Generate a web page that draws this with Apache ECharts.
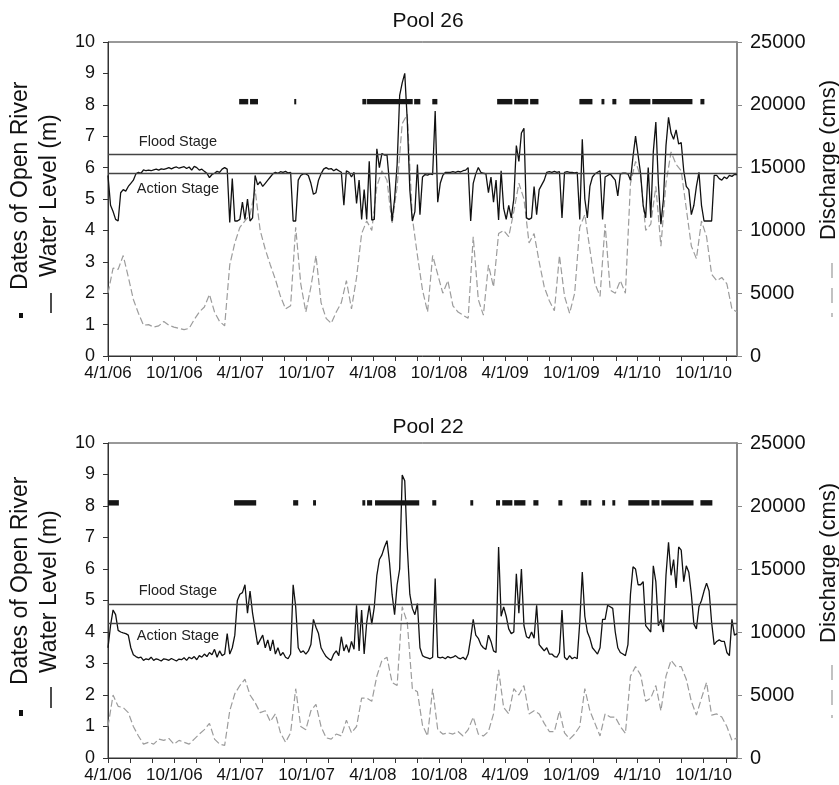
<!DOCTYPE html>
<html><head><meta charset="utf-8">
<script src="https://cdn.jsdelivr.net/npm/echarts@6/dist/echarts.min.js"></script>
<style>html,body{margin:0;padding:0;background:#fff}#c{width:839px;height:785px}</style>
</head><body><div id="c"></div>
<script>
// ---------- data ----------
const START_DATE = '2006-04-01';
const END_DATE = '2011-01-01';
const LEVEL_STEP_DAYS = 7;   // water level sampled weekly from START_DATE
const FLOW_STEP_DAYS = 14;   // discharge sampled bi-weekly from START_DATE

const xTickDates = ['2006-04-01','2006-06-01','2006-08-01','2006-10-01','2006-12-01',
  '2007-02-01','2007-04-01','2007-06-01','2007-08-01','2007-10-01','2007-12-01',
  '2008-02-01','2008-04-01','2008-06-01','2008-08-01','2008-10-01','2008-12-01',
  '2009-02-01','2009-04-01','2009-06-01','2009-08-01','2009-10-01','2009-12-01',
  '2010-02-01','2010-04-01','2010-06-01','2010-08-01','2010-10-01','2010-12-01'];
const xLabelDates = ['2006-04-01','2006-10-01','2007-04-01','2007-10-01','2008-04-01',
  '2008-10-01','2009-04-01','2009-10-01','2010-04-01','2010-10-01'];

const pool26Level = [
  5.75,4.8,4.6,4.35,4.3,5.2,5.3,5.25,5.4,5.5,
  5.6,5.8,5.85,5.82,5.93,5.9,5.92,5.9,5.93,5.95,
  5.92,5.96,5.94,5.97,6.0,5.96,6.0,6.02,5.98,6.01,
  6.03,5.97,6.02,5.92,6.04,6.0,5.92,5.95,5.88,5.82,
  5.68,5.78,5.82,5.88,5.85,5.95,6.0,5.95,4.25,5.65,
  4.3,4.3,4.35,4.9,4.35,5.0,4.3,4.4,5.75,5.45,
  5.55,5.4,5.5,5.6,5.7,5.8,5.85,5.82,5.87,5.85,
  5.88,5.83,5.85,4.3,4.3,5.6,5.75,5.8,5.8,5.75,
  5.5,5.15,5.2,5.6,5.8,5.95,6.0,5.95,5.97,5.9,
  5.95,5.9,5.85,4.8,5.9,5.85,5.7,5.85,4.86,5.6,
  4.35,5.3,4.35,6.2,4.33,4.35,6.6,6.0,6.45,6.4,
  6.4,5.5,4.3,5.0,6.1,8.3,8.7,9.0,7.5,5.3,
  4.3,4.6,6.1,4.5,5.7,5.78,5.76,5.8,5.78,7.8,
  4.9,5.5,5.75,5.85,5.85,5.85,5.87,5.85,5.88,5.86,
  5.9,5.92,6.0,4.3,5.5,5.8,6.0,5.85,5.82,5.8,
  5.2,5.7,4.9,5.6,4.33,5.9,4.7,4.35,4.8,4.4,
  5.0,6.7,6.2,7.1,7.25,4.4,4.35,4.4,5.4,4.5,
  5.3,5.45,5.6,5.85,5.87,5.85,5.88,5.85,5.87,4.4,
  5.85,5.87,5.85,5.85,5.83,5.85,4.35,6.9,5.0,4.4,
  5.4,5.7,5.8,5.85,5.9,4.35,5.7,5.75,5.8,5.7,
  5.6,5.1,5.8,5.82,5.82,5.8,5.6,6.35,7.0,6.4,
  5.8,4.8,4.4,6.0,4.4,6.5,7.45,5.5,4.2,5.0,
  6.7,7.6,7.1,6.9,7.2,6.75,6.8,5.9,5.4,5.3,
  4.5,4.8,5.4,5.85,4.8,4.3,4.3,4.3,4.3,5.75,
  5.75,5.65,5.6,5.7,5.65,5.75,5.72,5.78,5.78];

const pool22Level = [
  3.5,4.2,4.7,4.55,4.05,4.0,3.97,3.95,3.9,3.5,
  3.28,3.22,3.18,3.2,3.1,3.15,3.12,3.2,3.1,3.15,
  3.12,3.08,3.15,3.13,3.1,3.16,3.12,3.08,3.14,3.12,
  3.18,3.1,3.2,3.15,3.22,3.12,3.25,3.2,3.3,3.22,
  3.35,3.28,3.45,3.2,3.4,3.25,3.3,3.95,3.3,3.5,
  3.9,5.0,5.2,5.25,5.5,4.6,5.3,4.6,4.1,3.6,
  3.75,3.9,3.5,3.75,3.4,3.75,3.3,3.5,3.25,3.35,
  3.2,3.15,3.3,5.5,4.8,3.5,3.35,3.4,3.3,3.4,
  3.6,4.4,4.15,3.95,3.5,3.35,3.22,3.15,3.1,3.3,
  3.4,3.25,3.85,3.4,3.6,3.35,3.7,3.45,4.85,3.4,
  4.7,3.3,4.3,4.85,4.25,4.8,5.8,6.3,6.45,6.7,
  6.9,6.2,5.2,4.55,5.5,6.0,8.98,8.8,6.7,5.2,
  4.75,4.55,4.9,3.5,3.25,3.2,3.18,3.15,3.2,5.7,
  3.2,3.18,3.2,3.15,3.22,3.18,3.2,3.25,3.18,3.15,
  3.2,3.12,3.3,3.8,4.4,3.9,3.8,3.6,3.5,3.45,
  3.9,3.7,3.4,3.35,6.7,4.5,4.8,4.5,4.1,3.95,
  4.0,5.85,4.6,6.0,4.2,3.85,3.8,4.0,3.8,4.85,
  3.6,3.5,3.4,3.5,3.3,3.3,3.22,3.2,3.35,4.7,
  3.2,3.12,3.25,3.15,3.2,3.15,4.3,5.9,4.5,4.0,
  3.8,3.5,3.4,3.3,3.5,4.4,4.4,4.85,4.8,4.75,
  4.0,3.5,3.35,3.3,3.25,3.6,5.2,6.07,6.0,5.5,
  5.5,5.6,4.2,4.1,4.0,6.1,5.6,4.2,4.4,4.0,
  5.8,6.85,5.8,6.3,5.4,6.7,6.6,5.6,6.1,5.9,
  5.2,4.25,4.1,4.8,5.0,5.3,5.55,5.3,4.3,3.6,
  3.7,3.75,3.7,3.7,3.35,3.25,4.4,3.9,3.95];

const pool26Discharge = [
  5000,7000,6900,8000,6300,4500,3400,2450,2500,2300,
  2400,2750,2450,2300,2200,2100,2200,2900,3500,3900,
  4900,3500,2750,2400,7250,9000,10250,10750,11250,13250,
  10000,8500,7250,6100,4750,3750,4000,10250,5750,3500,
  5500,8000,4250,3000,2600,3500,4250,6000,3750,6250,
  9750,10750,10000,13500,14750,14000,10500,13500,18500,19250,
  11000,8000,5250,3500,8000,6500,5000,6000,4000,3500,
  3250,3000,9500,4500,3250,7250,5500,9750,10000,9500,
  11500,13750,12500,9000,9750,7500,5500,4400,3600,8000,
  4750,3400,5000,10250,11250,8500,5750,4750,10500,5250,
  5000,6000,5000,13750,15500,14250,10000,10500,13500,8750,
  13750,16250,15250,14750,11750,8750,7750,10750,9500,6500,
  6000,6250,5750,3750,3500];

const pool22Discharge = [
  2500,5000,4100,4000,3600,2500,1750,1100,1250,1100,
  1500,1400,1550,1100,1400,1250,1100,1500,1900,2250,
  2750,1500,1100,1000,3750,5100,5750,6250,5000,4400,
  3600,3750,2900,3500,2000,1250,2000,5500,2500,2250,
  3750,4250,2500,1600,1500,1900,1750,3000,2000,2500,
  4750,4750,4500,6500,7750,8000,6000,5750,12000,10750,
  5500,5250,2600,1750,5500,2250,1900,2000,1900,2100,
  1750,2250,3250,1900,1750,2100,3500,7000,4000,3500,
  5500,5000,5750,3500,3750,3500,2750,2100,2100,3750,
  2000,1500,1900,2500,5500,3750,2750,1750,3500,3250,
  3250,2500,1950,6500,7250,6600,4500,4750,5750,3750,
  6500,7750,7250,7250,6250,4500,3400,4750,6000,3400,
  3500,3250,2500,1400,1600];

const OPEN_RIVER_LEVEL = 8.1;
const pool26OpenRiver = [
  ['2007-03-29','2007-04-23'],['2007-04-28','2007-05-20'],['2007-08-28','2007-09-02'],
  ['2008-03-03','2008-03-14'],['2008-03-16','2008-07-20'],['2008-07-24','2008-08-10'],
  ['2008-09-12','2008-09-26'],['2009-03-10','2009-04-21'],['2009-04-26','2009-06-04'],
  ['2009-06-09','2009-07-02'],['2009-10-23','2009-11-28'],['2009-12-23','2009-12-31'],
  ['2010-01-22','2010-02-02'],['2010-03-10','2010-05-07'],['2010-05-12','2010-08-31'],
  ['2010-09-22','2010-10-03']];
const pool22OpenRiver = [
  ['2006-04-01','2006-05-01'],['2007-03-15','2007-05-15'],['2007-08-25','2007-09-08'],
  ['2007-10-19','2007-10-27'],['2008-03-03','2008-03-11'],['2008-03-16','2008-03-30'],
  ['2008-04-07','2008-08-07'],['2008-09-12','2008-09-23'],['2008-12-26','2009-01-03'],
  ['2009-03-07','2009-03-18'],['2009-03-24','2009-04-21'],['2009-04-26','2009-05-27'],
  ['2009-06-18','2009-07-02'],['2009-08-26','2009-09-06'],['2009-10-26','2009-11-14'],
  ['2009-11-17','2009-11-25'],['2009-12-25','2010-01-02'],['2010-01-22','2010-01-30'],
  ['2010-03-07','2010-05-04'],['2010-05-10','2010-06-01'],['2010-06-06','2010-09-03'],
  ['2010-09-22','2010-10-25']];

const pool26FloodStage = 6.42, pool26ActionStage = 5.82;
const pool22FloodStage = 4.88, pool22ActionStage = 4.27;
const STAGE_LABEL_DATE = '2006-06-25';

// ---------- helpers ----------
const FONT = '"Liberation Sans", Arial, Helvetica, sans-serif';
function ts(s){ const p = s.split('-').map(Number); return new Date(p[0], p[1]-1, p[2]).getTime(); }
const start = START_DATE.split('-').map(Number);
function stepTs(i, step){ return new Date(start[0], start[1]-1, start[2] + i*step).getTime(); }
function fmtDate(v){ const d = new Date(v); return (d.getMonth()+1) + '/' + d.getDate() + '/' + String(d.getFullYear()).slice(2); }

const panels = [
  {title:'Pool 26', level:pool26Level, flow:pool26Discharge, open:pool26OpenRiver,
   flood:pool26FloodStage, action:pool26ActionStage, top:42, height:314, titleTop:6},
  {title:'Pool 22', level:pool22Level, flow:pool22Discharge, open:pool22OpenRiver,
   flood:pool22FloodStage, action:pool22ActionStage, top:443, height:315, titleTop:412}
];

const grid = [], xAxis = [], yAxis = [], series = [], title = [];
panels.forEach((p, g) => {
  grid.push({left:108, right:102, top:p.top, height:p.height, show:true, borderColor:'#333', borderWidth:1, backgroundColor:'transparent'});
  title.push({text:p.title, left:423, top:p.titleTop, textAlign:'center',
    textStyle:{fontFamily:FONT, fontSize:21, fontWeight:'normal', color:'#111'}});
  xAxis.push({type:'value', gridIndex:g, min:ts(START_DATE), max:ts(END_DATE),
    axisLine:{show:true, lineStyle:{color:'#333', width:1}},
    axisTick:{show:true, customValues:xTickDates.map(ts), length:5, lineStyle:{color:'#333'}},
    axisLabel:{customValues:xLabelDates.map(ts), formatter:fmtDate, fontFamily:FONT, fontSize:17, color:'#111', margin:9},
    splitLine:{show:false}});
  yAxis.push({type:'value', gridIndex:g, min:0, max:10, interval:1, position:'left',
    axisLine:{show:true, lineStyle:{color:'#333', width:1}},
    axisTick:{show:true, length:5, lineStyle:{color:'#333'}},
    axisLabel:{fontFamily:FONT, fontSize:18, color:'#111', margin:13},
    splitLine:{show:false}});
  yAxis.push({type:'value', gridIndex:g, min:0, max:25000, interval:5000, position:'right',
    axisLine:{show:true, lineStyle:{color:'#888', width:2}},
    axisTick:{show:true, length:5, lineStyle:{color:'#888'}},
    axisLabel:{fontFamily:FONT, fontSize:20, color:'#111', margin:13, formatter:v => String(v)},
    splitLine:{show:false}});
  series.push({type:'line', xAxisIndex:g, yAxisIndex:2*g+1, showSymbol:false, silent:true,
    data:p.flow.map((v,i)=>[stepTs(i, FLOW_STEP_DAYS), v]),
    lineStyle:{color:'#9c9c9c', width:1.2, type:[7,3]}, z:2});
  series.push({type:'line', xAxisIndex:g, yAxisIndex:2*g, showSymbol:false, silent:true,
    data:p.level.map((v,i)=>[stepTs(i, LEVEL_STEP_DAYS), v]),
    lineStyle:{color:'#111', width:1.3}, z:3,
    markLine:{silent:true, symbol:'none', label:{show:false},
      lineStyle:{color:'#444', width:1.3, type:'solid'},
      data:[{yAxis:p.flood},{yAxis:p.action}]}});
  series.push({type:'custom', xAxisIndex:g, yAxisIndex:2*g, silent:true, z:4,
    encode:{x:[0,1], y:2},
    data:p.open.map(r=>[ts(r[0]), ts(r[1]), OPEN_RIVER_LEVEL]),
    renderItem:function(params, api){
      const s = api.coord([api.value(0), api.value(2)]);
      const e = api.coord([api.value(1), api.value(2)]);
      return {type:'rect', shape:{x:s[0], y:s[1]-2.7, width:Math.max(e[0]-s[0], 2), height:5.4}, style:{fill:'#161616'}};
    }});
});

const chart = echarts.init(document.getElementById('c'), null, {renderer:'canvas'});
chart.setOption({animation:false, backgroundColor:'#fff', title, grid, xAxis, yAxis, series});

// axis titles, stage labels
const graphic = [];
const leftTitle = [
  {line1Start:290, marker:[313,318], dash:[293,313], line2Start:277, rightStart:240, rightDash:[263,317]},
  {line1Start:685, marker:[710,716], dash:[687,708], line2Start:673, rightStart:643, rightDash:[665,718]}
];
leftTitle.forEach(t => {
  graphic.push({type:'text', x:21, y:t.line1Start, rotation:Math.PI/2,
    style:{text:'Dates of Open River', font:'23px '+FONT, fill:'#111', textAlign:'left', textVerticalAlign:'middle'}});
  graphic.push({type:'rect', shape:{x:19, y:t.marker[0], width:4, height:t.marker[1]-t.marker[0]}, style:{fill:'#111'}});
  graphic.push({type:'line', shape:{x1:51, y1:t.dash[0], x2:51, y2:t.dash[1]}, style:{stroke:'#111', lineWidth:1.5}});
  graphic.push({type:'text', x:50, y:t.line2Start, rotation:Math.PI/2,
    style:{text:'Water Level (m)', font:'23px '+FONT, fill:'#111', textAlign:'left', textVerticalAlign:'middle'}});
  graphic.push({type:'text', x:829, y:t.rightStart, rotation:Math.PI/2,
    style:{text:'Discharge (cms)', font:'22px '+FONT, fill:'#111', textAlign:'left', textVerticalAlign:'middle'}});
  graphic.push({type:'line', shape:{x1:832, y1:t.rightDash[0], x2:832, y2:t.rightDash[1]}, style:{stroke:'#999', lineWidth:1.2, lineDash:[15,10]}});
});
const stageOffsets = [[-12,16],[-13,13]];
panels.forEach((p, g) => {
  const f = chart.convertToPixel({xAxisIndex:g, yAxisIndex:2*g}, [ts(STAGE_LABEL_DATE), p.flood]);
  const a = chart.convertToPixel({xAxisIndex:g, yAxisIndex:2*g}, [ts(STAGE_LABEL_DATE), p.action]);
  graphic.push({type:'text', x:f[0], y:f[1]+stageOffsets[g][0],
    style:{text:'Flood Stage', font:'14.5px '+FONT, fill:'#222', textAlign:'left', textVerticalAlign:'middle'}});
  graphic.push({type:'text', x:a[0]-2, y:a[1]+stageOffsets[g][1],
    style:{text:'Action Stage', font:'14.5px '+FONT, fill:'#222', textAlign:'left', textVerticalAlign:'middle'}});
});
chart.setOption({graphic});
</script>
</body></html>
